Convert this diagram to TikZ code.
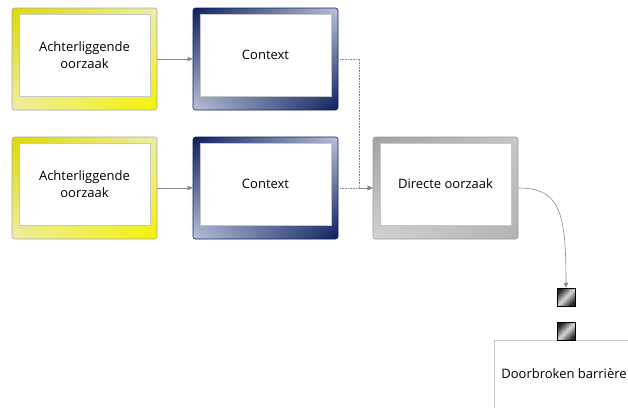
\documentclass[tikz,border=0pt]{standalone}
\usepackage{fontspec}
\setmainfont{Open Sans}
\usetikzlibrary{arrows.meta,shadings}

\definecolor{geel}{HTML}{F4F200}
\definecolor{geelbleek}{HTML}{EEEDAA}
\definecolor{marine}{HTML}{0B1F5E}
\definecolor{marinebleek}{HTML}{BCC4DA}
\definecolor{lijn}{HTML}{8A8A8A}

\tikzset{
    kader/.style={rounded corners=2.5pt, minimum width=145pt, minimum height=102pt, inner sep=0pt, line width=0.6pt},
    geelkader/.style={kader, draw=black!35, upper left=geel!90!black, upper right=geelbleek, lower left=geelbleek, lower right=geel},
    blauwkader/.style={kader, draw=marine, upper left=marine, upper right=marinebleek, lower left=marinebleek, lower right=marine},
    grijskader/.style={kader, draw=black!40, upper left=black!37, upper right=black!22, lower left=black!17, lower right=black!30},
    vlak/.style={fill=white, draw=black!22, line width=0.5pt, minimum width=131pt, minimum height=82pt, align=center, font=\fontsize{13}{17}\selectfont},
    blokje/.style={draw=black, line width=0.5pt, minimum size=18pt, inner sep=0pt, top color=black!85, bottom color=black!85, middle color=white!85!black, shading angle=45},
    pijl/.style={draw=lijn, line width=0.6pt, -{Triangle[length=5pt,width=4.5pt]}},
    stippel/.style={pijl, densely dotted},
}

\begin{document}
\begin{tikzpicture}[x=1pt, y=-1pt]
    \clip (0,0) rectangle (628,407);
    % bovenste rij
    \node[geelkader] (ach1) at (84.5,59) {};
    \node[vlak] at ([yshift=4pt]ach1.center) {Achterliggende\\oorzaak};
    \node[blauwkader] (ctx1) at (265.5,59) {};
    \node[vlak] at ([yshift=4pt]ctx1.center) {Context};
    % onderste rij
    \node[geelkader] (ach2) at (84.5,188) {};
    \node[vlak] at ([yshift=4pt]ach2.center) {Achterliggende\\oorzaak};
    \node[blauwkader] (ctx2) at (265.5,188) {};
    \node[vlak] at ([yshift=4pt]ctx2.center) {Context};
    \node[grijskader] (dir) at (445.5,188) {};
    \node[vlak] at ([yshift=4pt]dir.center) {Directe oorzaak};
    % barriere met de twee blokjes
    \node[vlak, minimum width=140pt, minimum height=68pt] (brr) at (564,374) {Doorbroken barrière};
    \node[blokje] (sq1) at (566,297) {};
    \node[blokje] (sq2) at (566,331.5) {};

    \coordinate (knik) at (359.5,188);
    \draw[pijl] (ach1) -- (ctx1);
    \draw[pijl] (ach2) -- (ctx2);
    \draw[stippel] (ctx1.east) -| (knik) -- (dir.west);
    \draw[stippel] (ctx2) -- (dir);
    \draw[pijl] (dir.east) .. controls +(42,0) and +(0,-75) .. (sq1.north);
\end{tikzpicture}
\end{document}
